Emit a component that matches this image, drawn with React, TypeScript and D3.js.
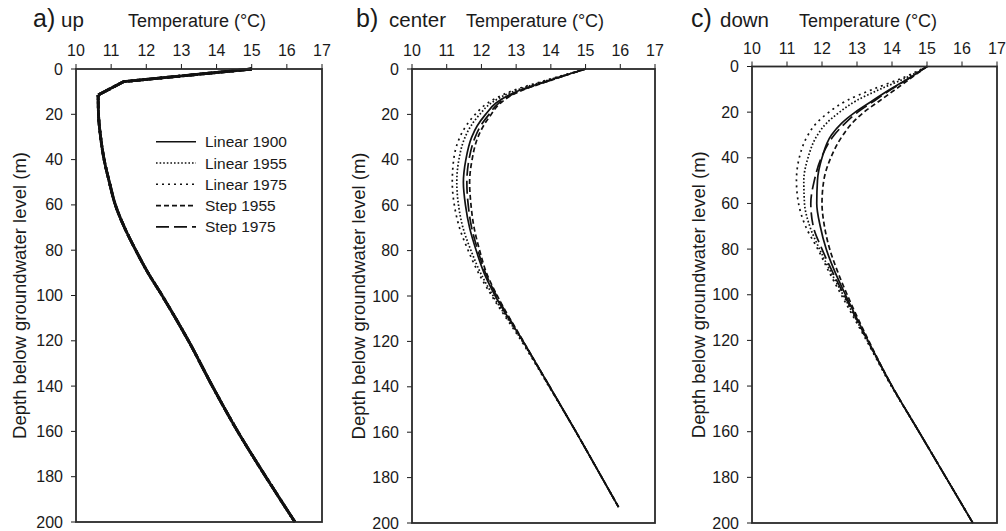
import React, {useEffect} from 'react';
import * as d3 from 'd3';

// ---- data (temperature in °C at depth in m) ----
const tempTicks = [10, 11, 12, 13, 14, 15, 16, 17];
const depthTicks = [0, 20, 40, 60, 80, 100, 120, 140, 160, 180, 200];

// a) up : all five scenarios lie on top of each other
const depthsUp = [0, 5.6, 11.5, 20, 30, 40, 50, 60, 70, 80, 90, 100, 120, 140, 160, 180, 200];
const upProfile = [15.0, 11.35, 10.63, 10.64, 10.7, 10.8, 10.95, 11.12, 11.38, 11.7, 12.05, 12.45, 13.2, 13.88, 14.6, 15.4, 16.23];

// b) center
const depthsCenter = [0, 5, 10, 15, 20, 25, 30, 40, 50, 60, 70, 80, 90, 100, 120, 140, 160, 180, 193];
const centerLinear1900 = [15.0, 13.95, 13.0, 12.42, 12.12, 11.88, 11.72, 11.55, 11.48, 11.54, 11.66, 11.85, 12.08, 12.4, 13.2, 13.97, 14.73, 15.47, 15.95];
const centerLinear1955 = [15.0, 13.9, 12.9, 12.28, 11.95, 11.7, 11.53, 11.35, 11.29, 11.34, 11.47, 11.7, 11.98, 12.34, 13.18, 13.96, 14.73, 15.47, 15.95];
const centerLinear1975 = [15.0, 13.85, 12.82, 12.18, 11.82, 11.56, 11.38, 11.2, 11.16, 11.22, 11.37, 11.62, 11.92, 12.3, 13.16, 13.95, 14.73, 15.47, 15.95];
const centerStep1955 = [15.0, 14.0, 13.08, 12.55, 12.28, 12.06, 11.9, 11.73, 11.66, 11.7, 11.79, 11.95, 12.15, 12.46, 13.21, 13.97, 14.73, 15.47, 15.95];
const centerStep1975 = [15.0, 13.98, 13.05, 12.5, 12.22, 11.98, 11.82, 11.64, 11.58, 11.62, 11.72, 11.9, 12.12, 12.44, 13.2, 13.97, 14.73, 15.47, 15.95];

// c) down
const depthsDown = [0, 5, 10, 15, 20, 25, 30, 40, 50, 60, 70, 80, 90, 100, 120, 140, 160, 180, 200];
const downLinear1900 = [15.0, 14.5, 13.95, 13.44, 12.95, 12.55, 12.27, 12.0, 11.87, 11.85, 11.95, 12.12, 12.37, 12.67, 13.31, 14.0, 14.77, 15.54, 16.31];
const downLinear1955 = [15.0, 14.4, 13.65, 12.98, 12.5, 12.12, 11.87, 11.6, 11.48, 11.5, 11.65, 11.93, 12.25, 12.6, 13.29, 13.99, 14.77, 15.54, 16.31];
const downLinear1975 = [15.0, 14.3, 13.45, 12.7, 12.2, 11.83, 11.6, 11.35, 11.27, 11.33, 11.53, 11.88, 12.2, 12.55, 13.27, 13.98, 14.77, 15.54, 16.31];
const downStep1955 = [15.0, 14.55, 14.1, 13.65, 13.2, 12.85, 12.6, 12.25, 12.05, 12.0, 12.07, 12.22, 12.45, 12.72, 13.33, 14.0, 14.77, 15.54, 16.31];
const downStep1975 = [15.0, 14.5, 13.98, 13.5, 13.02, 12.65, 12.35, 11.98, 11.78, 11.68, 11.75, 12.0, 12.3, 12.63, 13.3, 14.0, 14.77, 15.54, 16.31];

const seriesNames = ['Linear 1900', 'Linear 1955', 'Linear 1975', 'Step 1955', 'Step 1975'];

// ---- styling ----
const dashes = {
    'Linear 1900': null,
    'Linear 1955': '1.6,2',
    'Linear 1975': '2,4',
    'Step 1955': '5,3',
    'Step 1975': '13,5',
};
const FONT = '"Liberation Sans", Arial, Helvetica, sans-serif';
const INK = '#1a1a1a';

// sharpKnots: number of leading points joined with straight segments (panel a has hard kinks at the top)
const panels = [
    {
        letter: 'a)', word: 'up', letterX: 33, wordX: 61, tempX: 197, yLabelX: 19,
        x0: 76, x1: 322, y0: 69, y1: 522, lineW: 2.8, sharpKnots: 3,
        depths: depthsUp,
        series: [upProfile, upProfile, upProfile, upProfile, upProfile],
    },
    {
        letter: 'b)', word: 'center', letterX: 356, wordX: 389, tempX: 535, yLabelX: 358,
        x0: 412, x1: 655, y0: 69, y1: 523, lineW: 1.7, sharpKnots: 0,
        depths: depthsCenter,
        series: [centerLinear1900, centerLinear1955, centerLinear1975, centerStep1955, centerStep1975],
    },
    {
        letter: 'c)', word: 'down', letterX: 691, wordX: 720, tempX: 868, yLabelX: 698,
        x0: 752, x1: 997, y0: 66.5, y1: 523, lineW: 1.7, sharpKnots: 0,
        depths: depthsDown,
        series: [downLinear1900, downLinear1955, downLinear1975, downStep1955, downStep1975],
    },
];

function Panel({p, showLegend}){
    const xScale = d3.scaleLinear().domain([10, 17]).range([p.x0, p.x1]);
    const yScale = d3.scaleLinear().domain([0, 200]).range([p.y0, p.y1]);
    const straight = d3.line().x(d => xScale(d[1])).y(d => yScale(d[0]));
    const smooth = d3.line().x(d => xScale(d[1])).y(d => yScale(d[0])).curve(d3.curveMonotoneY);

    const makePath = pts => {
        if(p.sharpKnots > 1){
            const k = p.sharpKnots;
            return straight(pts.slice(0, k)) + smooth(pts.slice(k - 1));
        }
        return smooth(pts);
    };

    // draw the solid reference last so it sits on top
    const order = [1, 2, 3, 4, 0];

    return (
        <g>
            {/* titles */}
            <text x={p.letterX} y={27} fontSize={25} fill={INK}>{p.letter}</text>
            <text x={p.wordX} y={27} fontSize={20.5} fill={INK}>{p.word}</text>
            <text x={p.tempX} y={27} fontSize={18} textAnchor="middle" fill={INK}>Temperature (°C)</text>
            <text transform={`translate(${p.yLabelX},${(p.y0 + p.y1) / 2}) rotate(-90)`}
                  fontSize={18.5} textAnchor="middle" dominantBaseline="central" fill={INK}>
                Depth below groundwater level (m)
            </text>

            {/* top temperature axis */}
            {tempTicks.map(t => (
                <g key={'xt' + t}>
                    <line x1={xScale(t)} x2={xScale(t)} y1={p.y0} y2={p.y0 - 5} stroke={INK} strokeWidth={1}/>
                    <text x={xScale(t)} y={p.y0 - 13} fontSize={16} textAnchor="middle" fill={INK}>{t}</text>
                </g>
            ))}
            {/* left depth axis */}
            {depthTicks.map(t => (
                <g key={'yt' + t}>
                    <line x1={p.x0} x2={p.x0 - 5} y1={yScale(t)} y2={yScale(t)} stroke={INK} strokeWidth={1}/>
                    <text x={p.x0 - 13} y={yScale(t)} fontSize={16} textAnchor="end" dominantBaseline="central" fill={INK}>{t}</text>
                </g>
            ))}

            {/* profiles */}
            {order.map(i => {
                const pts = p.depths.map((d, j) => [d, p.series[i][j]]);
                return (
                    <path key={seriesNames[i]} d={makePath(pts)} fill="none" stroke="#111"
                          strokeWidth={p.lineW} strokeLinejoin="round"
                          strokeDasharray={dashes[seriesNames[i]] || undefined}/>
                );
            })}

            {/* frame */}
            <rect x={p.x0} y={p.y0} width={p.x1 - p.x0} height={p.y1 - p.y0}
                  fill="none" stroke="#2a2a2a" strokeWidth={1.8}/>

            {showLegend && seriesNames.map((name, i) => {
                const ly = 141.7 + i * 21.3;
                return (
                    <g key={'lg' + name}>
                        <line x1={156} x2={196} y1={ly} y2={ly} stroke="#111" strokeWidth={1.6}
                              strokeDasharray={dashes[name] || undefined}/>
                        <text x={205} y={ly} fontSize={15.5} dominantBaseline="central" fill={INK}>{name}</text>
                    </g>
                );
            })}
        </g>
    );
}

export default function App(){
    useEffect(() => {
        document.body.style.margin = '0';
    }, []);

    return (
        <svg width={1006} height={531} style={{display: 'block', background: 'white'}} fontFamily={FONT}>
            {panels.map((p, i) => <Panel key={p.letter} p={p} showLegend={i === 0}/>)}
        </svg>
    );
}
